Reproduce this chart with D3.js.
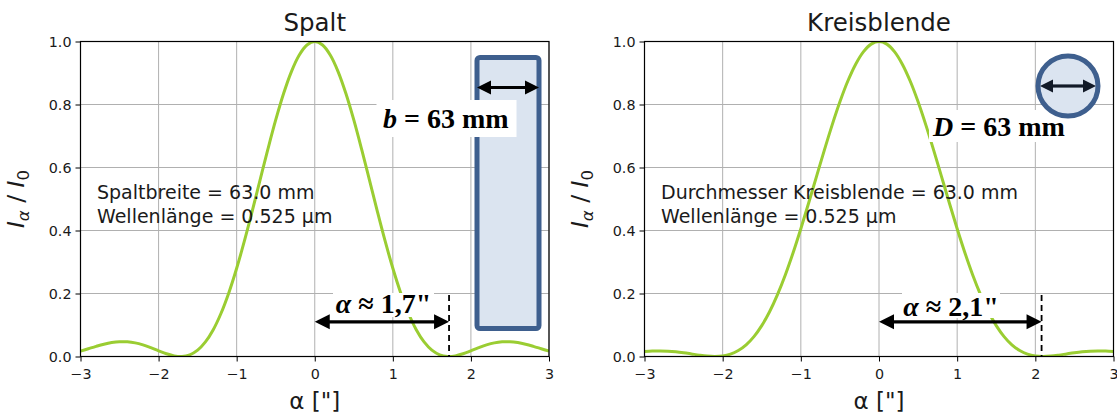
<!DOCTYPE html>
<html><head><meta charset="utf-8">
<script src="https://cdn.jsdelivr.net/npm/d3@7"></script>
<style>body{margin:0;background:#fff}svg{display:block}</style></head>
<body><svg id="c" width="1117" height="416"></svg>
<script>
// ---- data ----
const alpha = [-3,-2.9,-2.8,-2.7,-2.6,-2.5,-2.4,-2.3,-2.2,-2.1,-2,-1.9,-1.8,-1.7,-1.6,-1.5,-1.4,-1.3,-1.2,-1.1,-1,-0.9,-0.8,-0.7,-0.6,-0.5,-0.4,-0.3,-0.2,-0.1,0,0.1,0.2,0.3,0.4,0.5,0.6,0.7,0.8,0.9,1,1.1,1.2,1.3,1.4,1.5,1.6,1.7,1.8,1.9,2,2.1,2.2,2.3,2.4,2.5,2.6,2.7,2.8,2.9,3];
const spaltI = [0.0171,0.0247,0.0323,0.0391,0.0442,0.0469,0.0466,0.0432,0.0367,0.0279,0.0181,0.0088,0.0020,0.0001,0.0054,0.0202,0.0463,0.0851,0.1373,0.2026,0.2801,0.3676,0.4623,0.5606,0.6582,0.7509,0.8341,0.9038,0.9563,0.9889,1,0.9889,0.9563,0.9038,0.8341,0.7509,0.6582,0.5606,0.4623,0.3676,0.2801,0.2026,0.1373,0.0851,0.0463,0.0202,0.0054,0.0001,0.0020,0.0088,0.0181,0.0279,0.0367,0.0432,0.0466,0.0469,0.0442,0.0391,0.0323,0.0247,0.0171];
const kreisI = [0.0157,0.0171,0.0176,0.0168,0.0149,0.0119,0.0082,0.0044,0.0013,0.0000,0.0016,0.0074,0.0188,0.0369,0.0631,0.0980,0.1421,0.1957,0.2581,0.3286,0.4056,0.4872,0.5710,0.6545,0.7346,0.8086,0.8737,0.9272,0.9671,0.9917,1,0.9917,0.9671,0.9272,0.8737,0.8086,0.7346,0.6545,0.5710,0.4872,0.4056,0.3286,0.2581,0.1957,0.1421,0.0980,0.0631,0.0369,0.0188,0.0074,0.0016,0.0000,0.0013,0.0044,0.0082,0.0119,0.0149,0.0168,0.0176,0.0171,0.0157];
const xTicks = [-3,-2,-1,0,1,2,3];
const yTicks = [0,0.2,0.4,0.6,0.8,1.0];
const titles = ["Spalt","Kreisblende"];
const infoLines = [["Spaltbreite = 63.0 mm","Wellenlänge = 0.525 µm"],["Durchmesser Kreisblende = 63.0 mm","Wellenlänge = 0.525 µm"]];
const firstMin = [1.72, 2.08];
const minLabels = ["1,7\"","2,1\""];
const sizeSymbols = ["b","D"];
const sizeText = " = 63 mm";

// ---- layout ----
const svg = d3.select("#c");
const yTop = 41.5, yBot = 356.5;
const panels = [
  {x0:80.5, x1:549, series:spaltI, infoX:97, minBaseline:313, minBox:[333,293,101,24]},
  {x0:644.5, x1:1113.5, series:kreisI, infoX:661, minBaseline:316, minBox:[902,293,98,25]}
];
const green = "#9acd32", gridC = "#b0b0b0", txtC = "#1a1a1a";
const edge = "#3e5f8e", fillC = "#dbe4f0";
const sans = "DejaVu Sans", serif = "Liberation Serif";

function dblArrow(g, xa, xb, y, color, hl, hw, lw){
  g.append("line").attr("x1", xa+hl-1).attr("x2", xb-hl+1).attr("y1", y).attr("y2", y)
    .attr("stroke", color).attr("stroke-width", lw);
  g.append("path").attr("d", `M${xa},${y}L${xa+hl},${y-hw}L${xa+hl},${y+hw}Z`).attr("fill", color);
  g.append("path").attr("d", `M${xb},${y}L${xb-hl},${y-hw}L${xb-hl},${y+hw}Z`).attr("fill", color);
}

panels.forEach((p, i) => {
  const x = d3.scaleLinear().domain([-3,3]).range([p.x0, p.x1]);
  const y = d3.scaleLinear().domain([0,1]).range([yBot, yTop]);
  const g = svg.append("g");
  const cid = "clip"+i;
  svg.append("clipPath").attr("id", cid).append("rect")
    .attr("x", p.x0).attr("y", yTop).attr("width", p.x1-p.x0).attr("height", yBot-yTop);

  // grid
  g.append("g").selectAll("line").data(xTicks).join("line")
    .attr("x1", d=>x(d)).attr("x2", d=>x(d)).attr("y1", yTop).attr("y2", yBot)
    .attr("stroke", gridC).attr("stroke-width", 1);
  g.append("g").selectAll("line").data(yTicks).join("line")
    .attr("x1", p.x0).attr("x2", p.x1).attr("y1", d=>y(d)).attr("y2", d=>y(d))
    .attr("stroke", gridC).attr("stroke-width", 1);

  // curve
  const line = d3.line().x((d,j)=>x(alpha[j])).y(d=>y(Math.max(0,d))).curve(d3.curveCatmullRom.alpha(0.5));
  g.append("path").attr("d", line(p.series)).attr("fill","none").attr("stroke", green)
    .attr("stroke-width", 3).attr("clip-path", `url(#${cid})`);

  // axes
  const xa = d3.axisBottom(x).tickValues(xTicks).tickSize(5).tickPadding(4)
    .tickFormat(d => d < 0 ? "\u2212" + Math.abs(d) : String(d));
  const ya = d3.axisLeft(y).tickValues(yTicks).tickSize(5).tickPadding(4).tickFormat(d3.format(".1f"));
  const gx = g.append("g").attr("transform", `translate(0,${yBot})`).call(xa);
  const gy = g.append("g").attr("transform", `translate(${p.x0},0)`).call(ya);
  [gx, gy].forEach(a => {
    a.select(".domain").remove();
    a.selectAll("line").attr("stroke", "#000").attr("stroke-width", 1);
    a.selectAll("text").attr("font-family", sans).attr("font-size", 14.3).attr("fill", txtC);
  });
  gx.selectAll("text").attr("dy", "0.95em");
  g.append("rect").attr("x", p.x0).attr("y", yTop).attr("width", p.x1-p.x0).attr("height", yBot-yTop)
    .attr("fill","none").attr("stroke","#000").attr("stroke-width",1.2);

  // title
  const cx = (p.x0+p.x1)/2;
  g.append("text").attr("x", cx).attr("y", 31).attr("text-anchor","middle")
    .attr("font-family", sans).attr("font-size", 24.5).attr("fill", txtC).text(titles[i]);
  // x label
  g.append("text").attr("x", cx).attr("y", 409).attr("text-anchor","middle")
    .attr("font-family", sans).attr("font-size", 23).attr("fill", txtC).text("\u03b1 [\"]");
  // y label
  const yl = g.append("text").attr("transform", `translate(${p.x0-57},199) rotate(-90)`)
    .attr("text-anchor","middle").attr("font-family", sans).attr("font-size", 23.5).attr("fill", txtC);
  yl.append("tspan").attr("font-style","italic").text("I");
  yl.append("tspan").attr("font-style","italic").attr("font-size", 16.5).attr("dy", 5).text("\u03b1");
  yl.append("tspan").attr("dy", -5).text(" / ");
  yl.append("tspan").attr("font-style","italic").text("I");
  yl.append("tspan").attr("font-size", 16.5).attr("dy", 5).text("0");

  // info text
  infoLines[i].forEach((t, k) => {
    g.append("text").attr("x", p.infoX).attr("y", 198.5 + k*24.5)
      .attr("font-family", sans).attr("font-size", 19).attr("fill", txtC).text(t);
  });

  // first minimum annotation
  const xm = x(firstMin[i]);
  g.append("line").attr("x1", xm).attr("x2", xm).attr("y1", y(0.195)).attr("y2", yBot)
    .attr("stroke", "#000").attr("stroke-width", 1.8).attr("stroke-dasharray", "6,4");
  const b = p.minBox;
  g.append("rect").attr("x", b[0]).attr("y", b[1]).attr("width", b[2]).attr("height", b[3]).attr("fill", "#fff");
  const mt = g.append("text").attr("x", b[0]+b[2]/2).attr("y", p.minBaseline).attr("text-anchor","middle")
    .attr("font-family", serif).attr("font-weight","bold").attr("font-size", 28).attr("fill","#000");
  mt.append("tspan").attr("font-style","italic").text("\u03b1");
  mt.append("tspan").text(" \u2248 " + minLabels[i]);
  dblArrow(g, x(0), xm, y(0.11), "#000", 15, 7.5, 3.2);
});

// Spalt rectangle + label
{
  const g = svg.append("g");
  g.append("rect").attr("x", 477).attr("y", 57.5).attr("width", 62).attr("height", 271)
    .attr("rx", 3).attr("fill", fillC).attr("stroke", edge).attr("stroke-width", 5);
  g.append("rect").attr("x", 376.5).attr("y", 100).attr("width", 140).attr("height", 37).attr("fill", "#fff");
  const t = g.append("text").attr("x", 383).attr("y", 128).attr("font-family", serif)
    .attr("font-weight","bold").attr("font-size", 28).attr("fill","#000");
  t.append("tspan").attr("font-style","italic").text(sizeSymbols[0]);
  t.append("tspan").text(sizeText);
  dblArrow(g, 477, 539, 87.5, "#000", 14, 7, 3.2);
}
// Kreisblende circle + label
{
  const g = svg.append("g");
  g.append("rect").attr("x", 929).attr("y", 110).attr("width", 141).attr("height", 32).attr("fill", "#fff");
  const t = g.append("text").attr("x", 933).attr("y", 136).attr("font-family", serif)
    .attr("font-weight","bold").attr("font-size", 28).attr("fill","#000");
  t.append("tspan").attr("font-style","italic").text(sizeSymbols[1]);
  t.append("tspan").text(sizeText);
  g.append("circle").attr("cx", 1068).attr("cy", 86).attr("r", 30).attr("fill", fillC)
    .attr("stroke", edge).attr("stroke-width", 5);
  dblArrow(g, 1040, 1096, 86, "#121a28", 13, 6.5, 3.2);
}
</script></body></html>
